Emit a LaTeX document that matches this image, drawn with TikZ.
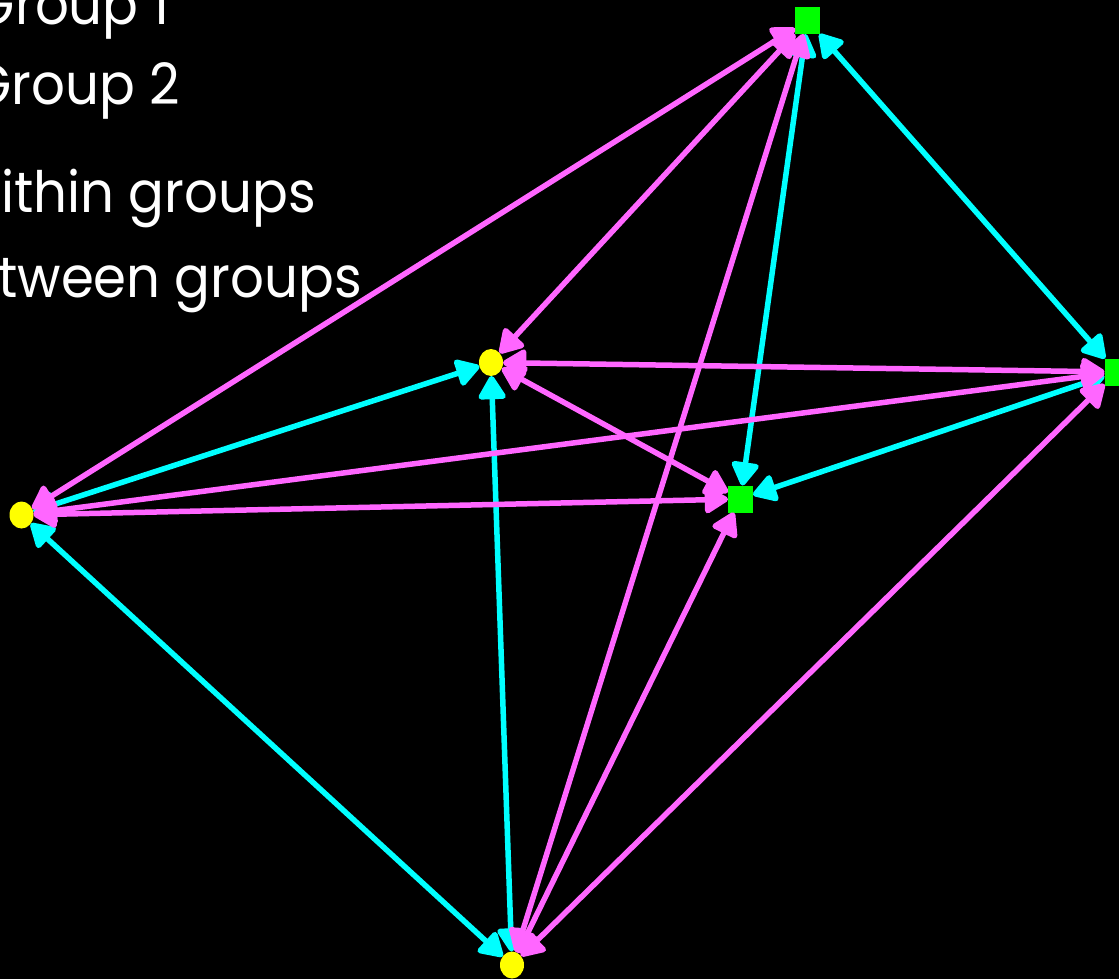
\documentclass[tikz,border=0pt]{standalone}
\usepackage{fontspec}
\setmainfont{Poppins}
\usetikzlibrary{arrows.meta,shapes.geometric}
\definecolor{cy}{HTML}{00FFFF}
\definecolor{mg}{HTML}{FF66FF}
\definecolor{gr}{HTML}{00FF00}
\definecolor{yl}{HTML}{FFFF00}
\tikzset{
  sq/.style={rectangle,fill=gr,minimum width=25pt,minimum height=27pt,inner sep=0pt,outer sep=0pt},
  dot/.style={ellipse,fill=yl,minimum width=24pt,minimum height=27pt,inner sep=0pt,outer sep=0pt},
  tip/.tip={Triangle[length=26pt,width=30pt,round]},
  edge/.style={line width=5.5pt,tip-tip},
  within/.style={edge,draw=cy},
  between/.style={edge,draw=mg},
  legend/.style={anchor=base east,inner sep=0pt,text=white,xscale=0.93,font=\fontsize{57}{60}\selectfont}
}
\begin{document}
\begin{tikzpicture}[x=1pt,y=-1pt]
\useasboundingbox (0,0) rectangle (1119,979);
\clip (0,0) rectangle (1119,979);
\fill[black] (0,0) rectangle (1119,979);
% legend
\node[legend] (l1) at (170,25) {Group 1};
\node[legend] (l2) at (180,105) {Group 2};
\node[legend] (l3) at (316,212) {within groups};
\node[legend] (l4) at (362,297) {between groups};
% nodes
\node[sq] (A) at (807.5,20.5) {};
\node[sq] (B) at (1117,372) {};
\node[sq] (C) at (740.5,499) {};
\node[dot] (D) at (491,362.5) {};
\node[dot] (E) at (21.5,515) {};
\node[dot] (F) at (512,965) {};
% within groups
\draw[within] (A) -- (B);
\draw[within] (A) -- (C);
\draw[within] (B) -- (C);
\draw[within] (D) -- (E);
\draw[within] (D) -- (F);
\draw[within] (E) -- (F);
% between groups
\draw[between] (A) -- (E);
\draw[between] (A) -- (D);
\draw[between] (A) -- (F);
\draw[between] (B) -- (D);
\draw[between] (B) -- (E);
\draw[between] (B) -- (F);
\draw[between] (C) -- (D);
\draw[between] (C) -- (E);
\draw[between] (C) -- (F);
\end{tikzpicture}
\end{document}
